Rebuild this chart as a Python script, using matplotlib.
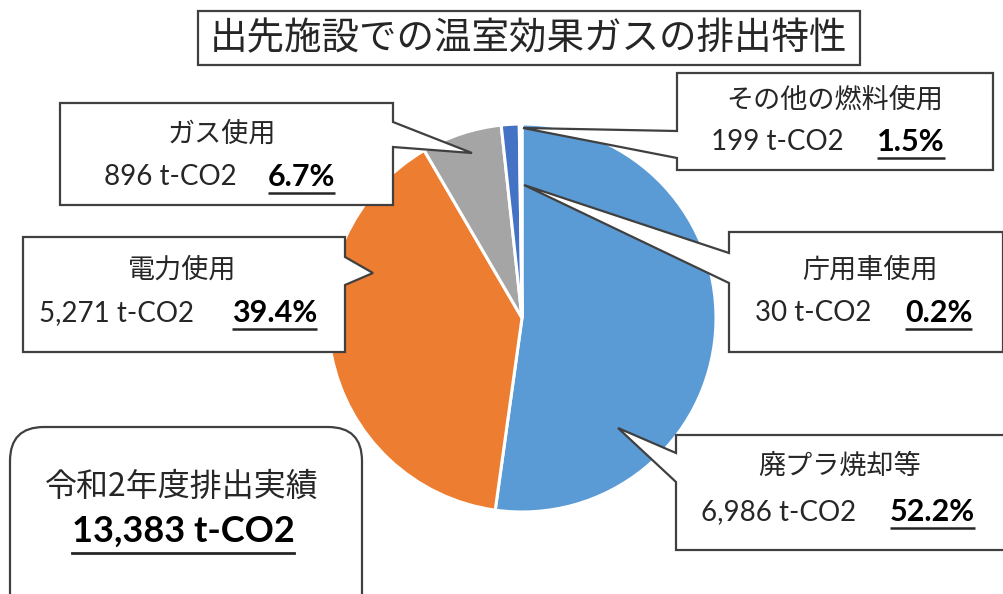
import matplotlib
matplotlib.use("Agg")
import matplotlib.pyplot as plt
from matplotlib.patches import Polygon, FancyBboxPatch, Rectangle

# data
labels = ["廃プラ焼却等", "電力使用", "ガス使用", "その他の燃料使用", "庁用車使用"]
amounts = [6986, 5271, 896, 199, 30]
shares = ["52.2%", "39.4%", "6.7%", "1.5%", "0.2%"]
colors = ["#5B9BD5", "#ED7D31", "#A5A5A5", "#4472C4", "#FFC000"]
total_label = "13,383 t-CO2"
title = "出先施設での温室効果ガスの排出特性"

JP = ["Noto Sans CJK JP", "DejaVu Sans"]
NUM = ["Lato", "DejaVu Sans"]
INK = "#262626"
EDGE = "#404040"

fig = plt.figure(figsize=(10.04, 5.94), dpi=100)
ax = fig.add_axes([0, 0, 1, 1])

ax.pie(amounts, colors=colors, startangle=270, counterclock=True,
       center=(522, 318), radius=194,
       wedgeprops=dict(edgecolor="white", linewidth=2.2))
ax.set_xlim(0, 1004)
ax.set_ylim(594, 0)
ax.set_aspect("equal")
ax.axis("off")

# callout shapes (pixel coords), one per label
callouts = {
    "ガス使用": [(60, 103), (393, 103), (393, 122), (472, 153), (393, 147), (393, 205), (60, 205)],
    "電力使用": [(23, 237), (345, 237), (345, 257), (373, 273), (345, 285), (345, 352), (23, 352)],
    "その他の燃料使用": [(677, 73), (993, 73), (993, 170), (677, 170), (677, 158), (523, 128), (677, 131)],
    "庁用車使用": [(729, 232), (1003, 232), (1003, 352), (729, 352), (729, 283), (524, 185), (729, 253)],
    "廃プラ焼却等": [(676, 435), (1010, 435), (1010, 550), (676, 550), (676, 482), (618, 428), (676, 453)],
}
# text anchors: title centre, line y, number right end, percent left start
anchors = {
    "ガス使用": (222, 134, 177, 237, 268),
    "電力使用": (182, 270, 313, 194, 232),
    "その他の燃料使用": (835, 100, 142, 844, 877),
    "庁用車使用": (870, 270, 313, 871, 905),
    "廃プラ焼却等": (840, 466, 512, 856, 890),
}

for name, pts in callouts.items():
    ax.add_patch(Polygon(pts, closed=True, facecolor="white", edgecolor=EDGE,
                         linewidth=1.6, zorder=5))

fig.canvas.draw()
renderer = fig.canvas.get_renderer()

for i, name in enumerate(labels):
    cx, ty, ly, nx, px = anchors[name]
    ax.text(cx, ty, name, family=JP, fontsize=19.5, color=INK,
            ha="center", va="center", zorder=6)
    ax.text(nx, ly, f"{amounts[i]:,} t-CO2", family=NUM, fontsize=20, color=INK,
            ha="right", va="center", zorder=6)
    t = ax.text(px, ly, shares[i], family=NUM, fontsize=22, fontweight="bold",
                color="black", ha="left", va="center", zorder=6)
    bb = t.get_window_extent(renderer)
    ax.plot([bb.x0, bb.x1], [ly + 16, ly + 16], color=INK, lw=1.8, zorder=6,
            solid_capstyle="butt")

# title box
ax.add_patch(Rectangle((198, 11), 662, 54, facecolor="white", edgecolor=EDGE,
                       linewidth=1.6, zorder=5))
ax.text(529, 39, title, family=JP, fontsize=27, color=INK,
        ha="center", va="center", zorder=6)

# total box
ax.add_patch(FancyBboxPatch((10, 427), 352, 200,
                            boxstyle="round,pad=0,rounding_size=34",
                            facecolor="white", edgecolor=EDGE, linewidth=1.6,
                            zorder=5))
ax.text(182, 487, "令和2年度排出実績", family=JP, fontsize=23, color=INK,
        ha="center", va="center", zorder=6)
t = ax.text(183, 531, total_label, family=NUM, fontsize=26, fontweight="bold",
            color="black", ha="center", va="center", zorder=6)
bb = t.get_window_extent(renderer)
ax.plot([bb.x0, bb.x1], [553, 553], color=INK, lw=2, zorder=6)

fig.savefig("out.png", dpi=100)
